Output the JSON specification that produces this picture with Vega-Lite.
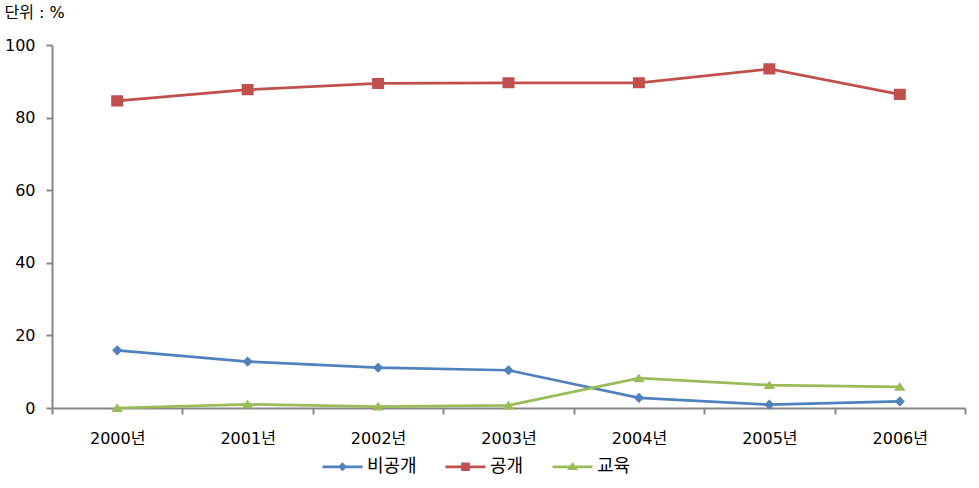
{
  "$schema": "https://vega.github.io/schema/vega-lite/v6.json",
  "width": 913,
  "height": 363,
  "autosize": "none",
  "padding": {"left": 52, "top": 45, "right": 14, "bottom": 80},
  "background": "white",
  "config": {
    "view": {"stroke": null},
    "font": "DejaVu Sans, Noto Sans CJK KR"
  },
  "data": {
    "values": [
      {"year": "2000년", "series": "비공개", "value": 15.9},
      {"year": "2001년", "series": "비공개", "value": 12.8},
      {"year": "2002년", "series": "비공개", "value": 11.1},
      {"year": "2003년", "series": "비공개", "value": 10.4},
      {"year": "2004년", "series": "비공개", "value": 2.8},
      {"year": "2005년", "series": "비공개", "value": 0.9},
      {"year": "2006년", "series": "비공개", "value": 1.8},
      {"year": "2000년", "series": "공개", "value": 84.6},
      {"year": "2001년", "series": "공개", "value": 87.7},
      {"year": "2002년", "series": "공개", "value": 89.4},
      {"year": "2003년", "series": "공개", "value": 89.6},
      {"year": "2004년", "series": "공개", "value": 89.6},
      {"year": "2005년", "series": "공개", "value": 93.4},
      {"year": "2006년", "series": "공개", "value": 86.4},
      {"year": "2000년", "series": "교육", "value": 0.0},
      {"year": "2001년", "series": "교육", "value": 1.0},
      {"year": "2002년", "series": "교육", "value": 0.4},
      {"year": "2003년", "series": "교육", "value": 0.7},
      {"year": "2004년", "series": "교육", "value": 8.2},
      {"year": "2005년", "series": "교육", "value": 6.3},
      {"year": "2006년", "series": "교육", "value": 5.8}
    ]
  },
  "encoding": {
    "x": {
      "field": "year",
      "type": "ordinal",
      "sort": null,
      "scale": {"type": "band", "paddingInner": 0, "paddingOuter": 0},
      "axis": {
        "title": null,
        "labelAngle": 0,
        "tickBand": "extent",
        "domainColor": "#868686",
        "domainWidth": 2,
        "tickColor": "#868686",
        "tickWidth": 2,
        "tickSize": 6,
        "labelFontSize": 16,
        "labelColor": "#000000",
        "labelPadding": 16
      }
    },
    "y": {
      "field": "value",
      "type": "quantitative",
      "scale": {"domain": [0, 100], "nice": false},
      "axis": {
        "values": [0, 20, 40, 60, 80, 100],
        "grid": false,
        "domainColor": "#868686",
        "domainWidth": 2,
        "tickColor": "#868686",
        "tickWidth": 2,
        "tickSize": 6,
        "labelFontSize": 16,
        "labelColor": "#000000",
        "labelPadding": 11,
        "title": "단위 : %",
        "titleAngle": 0,
        "titleX": -48,
        "titleY": -33,
        "titleAlign": "left",
        "titleBaseline": "middle",
        "titleFontSize": 16,
        "titleFontWeight": "normal",
        "titleColor": "#000000"
      }
    },
    "color": {
      "field": "series",
      "type": "nominal",
      "scale": {
        "domain": ["비공개", "공개", "교육"],
        "range": ["#4F81BD", "#C0504D", "#9BBB59"]
      },
      "legend": {
        "title": null,
        "orient": "none",
        "legendX": 269,
        "legendY": 400,
        "direction": "horizontal",
        "padding": 0,
        "symbolSize": 1600,
        "symbolStrokeWidth": 2.75,
        "labelFont": "Noto Sans CJK KR",
        "labelFontSize": 18,
        "labelColor": "#000000",
        "labelOffset": 3,
        "columnPadding": 23
      }
    }
  },
  "layer": [
    {"mark": {"type": "line", "strokeWidth": 2.75}},
    {
      "mark": {"type": "point", "filled": true, "opacity": 1, "size": 6400},
      "encoding": {
        "shape": {
          "field": "series",
          "type": "nominal",
          "scale": {
            "domain": ["비공개", "공개", "교육"],
            "range": [
              "M-1,0L1,0M0,-0.128L0.128,0L0,0.128L-0.128,0Z",
              "M-1,0L1,0M-0.15,-0.14L0.15,-0.14L0.15,0.14L-0.15,0.14Z",
              "M-1,0L1,0M0,-0.118L0.145,0.098L-0.145,0.098Z"
            ]
          }
        }
      }
    }
  ]
}
